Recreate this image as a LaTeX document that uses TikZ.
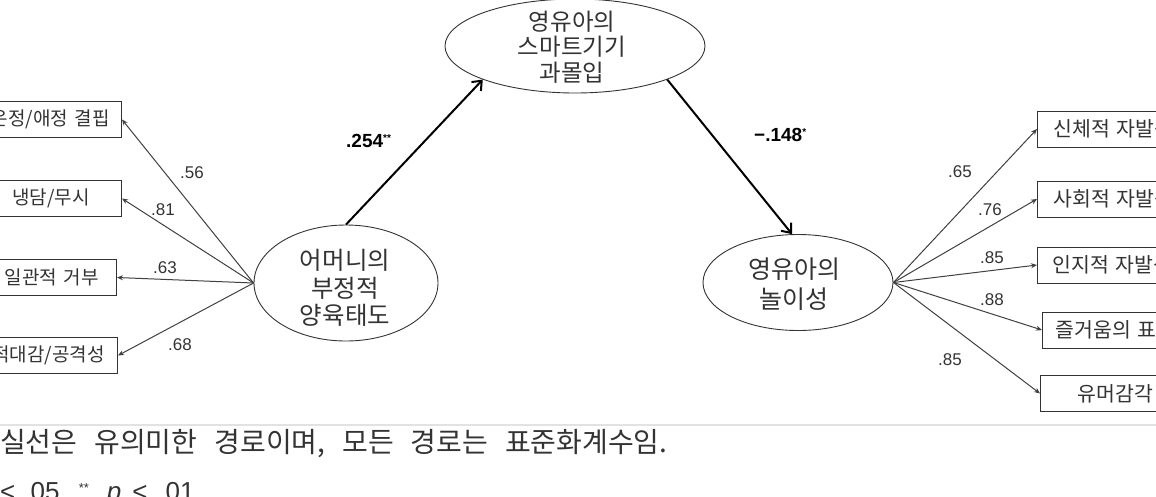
\documentclass[tikz,border=0pt]{standalone}
\usepackage{fontspec}
\setmainfont{Liberation Sans}
\newfontfamily\kr{Noto Sans CJK KR}
\usetikzlibrary{shapes.geometric,arrows.meta}
\definecolor{ink}{HTML}{333333}
\definecolor{rule}{HTML}{E2E2E2}
\begin{document}
\begin{tikzpicture}[x=1pt,y=-1pt,
  latent/.style={draw=ink, line width=0.9pt, ellipse, inner sep=0pt},
  lattext/.style={align=center, text=ink, inner sep=0pt},
  obsbox/.style={draw=ink, line width=1pt, minimum height=36pt, inner ysep=0pt,
     font=\kr\fontsize{20.5}{22}\selectfont, text=ink},
  lobsbox/.style={obsbox, font=\kr\fontsize{19}{21}\selectfont},
  loadarrow/.style={draw=black!75, line width=1pt, -{Stealth[length=6pt,width=5pt]}},
  patharrow/.style={draw=black, line width=2pt, -{Straight Barb[length=8pt,width=13pt]}},
  coef/.style={font=\fontsize{17}{18}\selectfont, text=ink, inner sep=0pt},
  pcoef/.style={font=\bfseries\fontsize{19}{20}\selectfont, text=black, inner sep=0pt},
  note/.style={font=\kr\fontsize{28}{30}\selectfont, text=ink, inner sep=0pt}
]
\useasboundingbox (0,0) rectangle (1156,496);
\clip (0,0) rectangle (1156,496);

% latent variables
\node[latent, minimum width=184pt, minimum height=116pt] (mom) at (346,283) {};
\node[lattext, font=\kr\fontsize{24.5}{27.5}\selectfont] (momt) at (345,288) {어머니의\\부정적\\양육태도};
\node[latent, minimum width=260pt, minimum height=94pt] (imm) at (575,46) {};
\node[lattext, font=\kr\fontsize{23.5}{25.5}\selectfont] (immt) at (572,47) {영유아의\\스마트기기\\과몰입};
\node[latent, minimum width=190pt, minimum height=96pt] (play) at (798,282.5) {};
\node[lattext, font=\kr\fontsize{25}{30}\selectfont] (playt) at (794,284) {영유아의\\놀이성};

% left indicators
\node[lobsbox, anchor=east, text width=170pt, align=right, inner xsep=12pt] (l1) at (122,119.5) {온정/애정 결핍};
\node[lobsbox, anchor=east, text width=150pt, align=right, inner xsep=32pt] (l2) at (122,198.5) {냉담/무시};
\node[lobsbox, anchor=east, text width=150pt, align=right, inner xsep=18pt] (l3) at (117,277.5) {일관적 거부};
\node[lobsbox, anchor=east, text width=150pt, align=right, inner xsep=13pt] (l4) at (118,355.5) {적대감/공격성};

% right indicators
\node[obsbox, anchor=west, text width=140pt, align=left, inner xsep=16pt] (r1) at (1037,129) {신체적 자발성};
\node[obsbox, anchor=west, text width=140pt, align=left, inner xsep=16pt] (r2) at (1037,199) {사회적 자발성};
\node[obsbox, anchor=west, text width=140pt, align=left, inner xsep=15pt] (r3) at (1037,265) {인지적 자발성};
\node[obsbox, anchor=west, text width=140pt, align=left, inner xsep=13pt] (r4) at (1042,330) {즐거움의 표현};
\node[obsbox, anchor=west, text width=140pt, align=left, inner xsep=37pt] (r5) at (1040,393.5) {유머감각};

% loadings
\draw[loadarrow] (mom.west) -- (l1.east);
\draw[loadarrow] (mom.west) -- (l2.east);
\draw[loadarrow] (mom.west) -- (l3.east);
\draw[loadarrow] (mom.west) -- (l4.east);
\draw[loadarrow] (play.east) -- (r1.west);
\draw[loadarrow] (play.east) -- (r2.west);
\draw[loadarrow] (play.east) -- (r3.west);
\draw[loadarrow] (play.east) -- (r4.west);
\draw[loadarrow] (play.east) -- (r5.west);

% structural paths
\draw[patharrow] (mom.north) -- (imm.south west);
\draw[patharrow] (imm.south east) -- (play.97);

% coefficients
\node[coef] (c1) at (192,173) {.56};
\node[coef] (c2) at (163,210) {.81};
\node[coef] (c3) at (165,268) {.63};
\node[coef] (c4) at (180,345) {.68};
\node[coef] (c5) at (960,172) {.65};
\node[coef] (c6) at (990,210) {.76};
\node[coef] (c7) at (992,258) {.85};
\node[coef] (c8) at (992,300) {.88};
\node[coef] (c9) at (950,360) {.85};
\node[pcoef, anchor=west] (p1) at (346,141) {.254\raisebox{6pt}{\fontsize{10}{10}\selectfont**}};
\node[pcoef, anchor=west] (p2) at (754,135) {−.148\raisebox{6pt}{\fontsize{10}{10}\selectfont*}};

% note
\draw[rule, line width=2pt] (0,425) -- (1156,425);
\node[note, anchor=base west] (n1) at (0,452) {실선은\hspace{17pt}유의미한\hspace{17pt}경로이며,\hspace{17pt}모든\hspace{17pt}경로는\hspace{17pt}표준화계수임.};
\node[anchor=base west, inner sep=0pt, text=ink, font=\fontsize{26}{28}\selectfont] (n2) at (0,500)
  {<\hspace{8pt}.05,\hspace{12pt}\raisebox{8pt}{\fontsize{13}{13}\selectfont**}\hspace{18pt}\textit{p}\hspace{11pt}<\hspace{11pt}.01};
\end{tikzpicture}
\end{document}
